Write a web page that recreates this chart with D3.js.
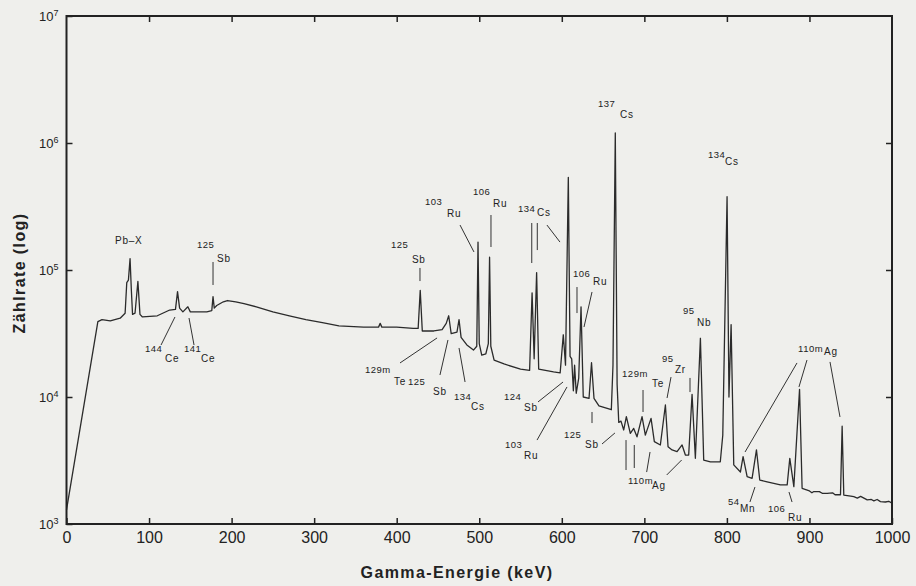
<!DOCTYPE html>
<meta charset="utf-8">
<style>
body { margin: 0; background: #efefec; }
svg { display: block; font-family: "Liberation Sans", Arial, sans-serif; }
.axis path { display: none; }
.axis text { fill: #222; }
.iso text { fill: #222; }
.title { font-weight: bold; font-size: 16px; letter-spacing: 1.4px; fill: #222; }
</style>

<svg width="916" height="586"></svg>

<script src="https://d3js.org/d3.v7.min.js"></script>
<script>

// gamma spectrum: energy in keV, count rate
var energy = [0,38,43,53,65,71,73,75,77,78.5,80,83,86.5,89,92,110,125,132,134.5,137,141,147,150,170,
  176,177.5,179,182,190,195,205,215,230,250,270,290,310,330,360,378,380,382,400,420,426,428.5,431,445,
  455,460,463,466,473,475.5,478,485,493,497,498.5,500,503,508,511,512.5,514,518,530,550,561,564,566.5,
  569.5,572,590,598,601.8,604.5,607.9,610,612,614,615.5,617.5,620.5,623.3,626,633,636,639,645,655,660,
  662,664.8,667,669,671.7,675,678.2,683,687.1,691.1,697.2,701.2,708.1,712.1,719.4,725.5,728.7,733.6,
  739.6,745.7,749.7,753.7,757.8,761.8,767.9,771.9,780,792,795,800.2,802.5,805.1,808.3,816.4,819.6,
  824.5,830.5,835.8,839.8,848.7,864.8,873,876.2,881.1,888,891.1,900,903,905.3,912,916,921.4,928,931,
  937.6,939.6,941.6,950,953.7,958,962,970,975,978,982,986,992,996,1000];

var counts = [1290,39200,40700,39800,41700,45700,79400,83200,123000,70800,44700,45700,81300,44700,42700,
  43600,48400,49000,67600,50100,46800,51300,46800,46800,
  47900,61700,50100,52500,56200,57500,56200,54300,51300,46800,43600,40700,38500,36300,35500,35500,38000,
  35500,35500,34700,34700,69200,33100,33100,
  33900,38000,43600,31600,32400,40700,29500,25700,23400,25100,166000,26300,21400,21900,26300,126000,
  25100,19500,18200,16600,16200,66100,20000,
  95500,16600,15800,15500,30900,17800,537000,20900,20000,11200,17800,10700,14100,51300,10000,9770,18600,
  9770,8510,8130,7940,
  17800,1200000,12600,6310,6460,5500,7000,5180,5660,4860,7000,5010,6790,4450,4190,8650,4060,3830,
  3720,4190,3490,3490,10500,3290,29000,3190,3090,3090,5000,378000,10000,37200,2920,2570,3390,
  2360,2290,3830,2220,2150,2030,2030,3290,1970,11500,1910,1820,1760,1800,1800,1740,1740,1760,1700,
  1700,5890,1690,1660,1640,1600,1650,1550,1560,1520,1560,1500,1490,1510,1460];

var xTicks = [0,100,200,300,400,500,600,700,800,900,1000];
var yTicks = [1e3,1e4,1e5,1e6,1e7];

// nuclide labels: anchor in keV / log10(rate), symbol offset in px
var isotopes = [
  {mass:"",     sym:"Pb–X", e:58.8,  l:5.205, sx:0,  sy:0},
  {mass:"125",  sym:"Sb", e:158.1, l:5.173, sx:20, sy:14},
  {mass:"144",  sym:"Ce", e:95.1,  l:4.354, sx:20, sy:10},
  {mass:"141",  sym:"Ce", e:142.3, l:4.354, sx:17, sy:10},
  {mass:"125",  sym:"Sb", e:393.1, l:5.173, sx:21, sy:15},
  {mass:"103",  sym:"Ru", e:434.3, l:5.512, sx:22, sy:12},
  {mass:"106",  sym:"Ru", e:492.4, l:5.591, sx:20, sy:12},
  {mass:"134",  sym:"Cs", e:547,   l:5.457, sx:19, sy:4},
  {mass:"137",  sym:"Cs", e:643.9, l:6.283, sx:22, sy:11},
  {mass:"134",  sym:"Cs", e:777.1, l:5.882, sx:17, sy:7},
  {mass:"106",  sym:"Ru", e:613.6, l:4.945, sx:20, sy:8},
  {mass:"129m", sym:"Te", e:361.6, l:4.189, sx:29, sy:12},
  {mass:"125",  sym:"Sb", e:413.7, l:4.094, sx:25, sy:10},
  {mass:"134",  sym:"Cs", e:469.4, l:3.976, sx:17, sy:10},
  {mass:"124",  sym:"Sb", e:530,   l:3.976, sx:20, sy:11},
  {mass:"103",  sym:"Ru", e:531.2, l:3.598, sx:19, sy:11},
  {mass:"125",  sym:"Sb", e:602.7, l:3.677, sx:21, sy:10},
  {mass:"95",   sym:"Nb", e:746.8, l:4.654, sx:14, sy:12},
  {mass:"95",   sym:"Zr", e:721.4, l:4.276, sx:13, sy:11},
  {mass:"129m", sym:"Te", e:673,   l:4.157, sx:30, sy:10},
  {mass:"110m", sym:"Ag", e:680.2, l:3.315, sx:24, sy:5},
  {mass:"54",   sym:"Mn", e:801.3, l:3.15,  sx:12, sy:7},
  {mass:"106",  sym:"Ru", e:849.8, l:3.094, sx:20, sy:9},
  {mass:"110m", sym:"Ag", e:886.2, l:4.354, sx:26, sy:3}
];

// leader lines [e1, log1, e2, log2]
var leaders = [
  [177.5,5.063,177.5,4.882],[131.4,4.63,114.5,4.409],[148.4,4.622,154.5,4.409],
  [428.2,5.016,428.2,4.913],[476.7,5.354,493.6,5.142],[514.2,5.433,514.2,5.181],
  [563.6,5.37,563.6,5.055],[570.3,5.37,570.3,5.157],[582,5.354,597.8,5.22],
  [618.4,4.866,618.4,4.661],[636.6,4.827,626.9,4.551],[404,4.268,448.9,4.465],
  [452.4,4.173,462.1,4.449],[482.8,4.118,475.5,4.386],[571.2,3.961,601.5,4.118],
  [570,3.661,606.3,4.079],[636.6,3.882,636.6,3.795],[648.7,3.63,664.4,3.717],
  [732.3,4.157,727.5,3.992],[755.3,4.15,755.3,4.039],[698.4,4.055,698.4,3.882],
  [677.8,3.661,677.8,3.425],[687.8,3.622,687.8,3.441],[706.9,3.567,702.8,3.409],
  [745.2,3.504,727.1,3.386],[834,3.291,827.9,3.173],[875.2,3.252,878.9,3.173],
  [884.9,4.268,822,3.567],[897,4.291,887.3,4.079],[924.9,4.276,937,3.843]
];

var svg = d3.select("svg"),
    padL = 66.5, padR = 892, padT = 16, padB = 524,
    ink = "#222";

var x = d3.scaleLinear().domain([0, 1000]).range([padL, padR]);
var y = d3.scaleLog().domain([1e3, 1e7]).range([padB, padT]);

var spectrum = energy.map(function(e, i) { return [e, counts[i]]; });

svg.append("path")
    .datum(spectrum)
    .attr("fill", "none")
    .attr("stroke", "#2b2b2b")
    .attr("stroke-width", 1.3)
    .attr("stroke-linejoin", "round")
    .attr("d", d3.line()
      .x(function(d) { return x(d[0]); })
      .y(function(d) { return y(d[1]); }));

// axes with inward ticks
var gx = svg.append("g")
    .attr("class", "axis")
    .attr("transform", "translate(0," + padB + ")")
    .call(d3.axisBottom(x).tickValues(xTicks).tickFormat(d3.format("d"))
      .tickSizeInner(-6).tickSizeOuter(0).tickPadding(8));
gx.selectAll("text").style("font-size", "16px");

var gt = svg.append("g")
    .attr("class", "axis")
    .attr("transform", "translate(0," + padT + ")")
    .call(d3.axisTop(x).tickValues(xTicks.slice(1, -1)).tickSizeInner(-6).tickSizeOuter(0).tickFormat(""));

var gy = svg.append("g")
    .attr("class", "axis")
    .attr("transform", "translate(" + padL + ",0)")
    .call(d3.axisLeft(y).tickValues(yTicks).tickSizeInner(-6).tickSizeOuter(0).tickPadding(8));

gy.selectAll("text")
    .style("font-size", "13px")
    .each(function(d) {
      var t = d3.select(this).text("10");
      t.append("tspan")
          .attr("dy", "-0.5em")
          .style("font-size", "9px")
          .text(Math.round(Math.log10(d)));
    });

var gr = svg.append("g")
    .attr("class", "axis")
    .attr("transform", "translate(" + padR + ",0)")
    .call(d3.axisRight(y).tickValues(yTicks.slice(1, -1)).tickSizeInner(-6).tickSizeOuter(0).tickFormat(""));

[gx, gt, gy, gr].forEach(function(g) {
  g.selectAll(".tick line").attr("stroke", ink).attr("stroke-width", 1.5);
});

svg.append("rect")
    .attr("x", padL).attr("y", padT)
    .attr("width", padR - padL).attr("height", padB - padT)
    .attr("fill", "none")
    .attr("stroke", ink)
    .attr("stroke-width", 2);

// axis titles
svg.append("text")
    .attr("class", "title")
    .attr("x", 457).attr("y", 578)
    .attr("text-anchor", "middle")
    .text("Gamma-Energie (keV)");

svg.append("text")
    .attr("class", "title")
    .attr("transform", "translate(25,273) rotate(-90)")
    .attr("text-anchor", "middle")
    .text("Zählrate (log)");

// nuclide annotations
svg.append("g").selectAll("line")
    .data(leaders)
    .enter().append("line")
      .attr("stroke", "#333")
      .attr("stroke-width", 1)
      .attr("x1", function(d) { return x(d[0]); })
      .attr("y1", function(d) { return y(Math.pow(10, d[1])); })
      .attr("x2", function(d) { return x(d[2]); })
      .attr("y2", function(d) { return y(Math.pow(10, d[3])); });

var iso = svg.append("g").attr("class", "iso")
  .selectAll("g")
  .data(isotopes)
  .enter().append("g")
    .attr("transform", function(d) { return "translate(" + x(d.e) + "," + y(Math.pow(10, d.l)) + ")"; });

iso.append("text")
    .style("font-size", "9.5px")
    .style("letter-spacing", "0.5px")
    .text(function(d) { return d.mass; });

iso.append("text")
    .attr("x", function(d) { return d.sx; })
    .attr("y", function(d) { return d.sy; })
    .style("font-size", "10px")
    .style("letter-spacing", "0.7px")
    .text(function(d) { return d.sym; });

</script>
